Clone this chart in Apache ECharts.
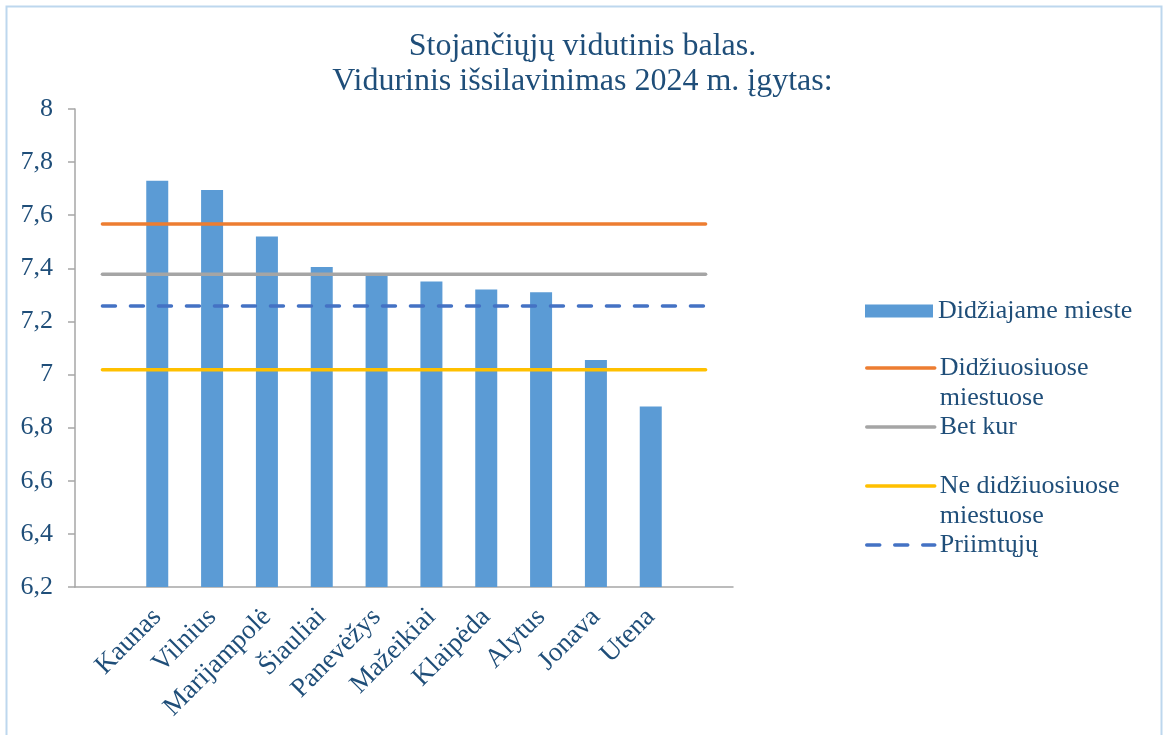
<!DOCTYPE html>
<html lang="lt">
<head>
    <meta charset="UTF-8">
    <title>Stojančiųjų vidutinis balas</title>
    <script src="https://cdn.jsdelivr.net/npm/echarts@6/dist/echarts.min.js"></script>
    <style>
        html, body { margin: 0; padding: 0; background: #fff; }
        #main { width: 1165px; height: 735px; }
    </style>
</head>
<body>
<div id="main"></div>
<script type="text/javascript">
    // miestai ir vidutiniai balai
    var cities = ['Kaunas', 'Vilnius', 'Marijampolė', 'Šiauliai', 'Panevėžys',
        'Mažeikiai', 'Klaipėda', 'Alytus', 'Jonava', 'Utena'];
    var cityScores = [7.73, 7.695, 7.52, 7.405, 7.375, 7.35, 7.32, 7.31, 7.055, 6.88];
    var barName = 'Didžiajame mieste';

    // horizontalios linijos
    var lineNames = ['Didžiuosiuose miestuose', 'Bet kur', 'Ne didžiuosiuose miestuose', 'Priimtųjų'];
    var lineLevels = [7.567, 7.378, 7.018, 7.258];
    // pirma tuscia eilute - kad pirmoji teksto eilute butu prie ikonos
    var lineLabels = ['\nDidžiuosiuose\nmiestuose', 'Bet kur', '\nNe didžiuosiuose\nmiestuose', 'Priimtųjų'];

    var yTicks = [6.2, 6.4, 6.6, 6.8, 7, 7.2, 7.4, 7.6, 7.8, 8];

    var textColor = '#1F4E79';
    var font = '"Liberation Serif", "Times New Roman", serif';

    // tuscia kategorija is abieju krastu
    var categories = [''].concat(cities).concat(['']);
    var barData = [null].concat(cityScores).concat([null]);
    var lastIdx = categories.length - 1;

    var lineColors = ['#ED7D31', '#A5A5A5', '#FFC000', '#4472C4'];
    var lineTypes = ['solid', 'solid', 'solid', [13, 15]];
    var legendTops = [323, 412, 441, 530];

    var series = [{
        name: barName,
        type: 'bar',
        data: barData,
        barWidth: 22,
        itemStyle: { color: '#5B9BD5' }
    }];
    lineNames.forEach(function (n, i) {
        series.push({
            name: n,
            type: 'line',
            data: [[0, lineLevels[i]], [lastIdx, lineLevels[i]]],
            symbol: 'none',
            lineStyle: { color: lineColors[i], width: 3.5, type: lineTypes[i], cap: 'round' },
            itemStyle: { color: lineColors[i] },
            z: 3
        });
    });

    var legends = [{
        data: [barName],
        left: 865, top: 296, padding: 0,
        itemWidth: 68, itemHeight: 13,
        selectedMode: false,
        icon: 'rect',
        textStyle: { fontFamily: font, fontSize: 26, color: textColor, lineHeight: 30 }
    }];
    lineNames.forEach(function (n, i) {
        legends.push({
            data: [n],
            left: 865, top: legendTops[i], padding: 0,
            itemWidth: 68, itemHeight: 14,
            selectedMode: false,
            itemStyle: { opacity: 0 },
            lineStyle: { width: 3.5, cap: 'round' },
            formatter: function () { return lineLabels[i]; },
            textStyle: { fontFamily: font, fontSize: 26, color: textColor, lineHeight: 30 }
        });
    });

    var myChart = echarts.init(document.getElementById('main'));
    myChart.setOption({
        animation: false,
        backgroundColor: '#fff',
        title: {
            text: 'Stojančiųjų vidutinis balas.\nVidurinis išsilavinimas 2024 m. įgytas:',
            left: 'center', top: 24,
            textStyle: { fontFamily: font, fontSize: 32, fontWeight: 'normal', color: textColor, lineHeight: 35 }
        },
        legend: legends,
        grid: { left: 75, right: 432, top: 109, bottom: 148 },
        xAxis: {
            type: 'category',
            data: categories,
            axisLine: { lineStyle: { color: '#A6A6A6', width: 1.5 } },
            axisTick: { length: 6, lineStyle: { color: '#A6A6A6', width: 1.5 } },
            axisLabel: {
                interval: 0, rotate: 45, margin: 26,
                fontFamily: font, fontSize: 27, color: textColor
            }
        },
        yAxis: {
            type: 'value',
            min: yTicks[0], max: yTicks[yTicks.length - 1], interval: 0.2,
            splitLine: { show: false },
            axisLine: { show: true, lineStyle: { color: '#A6A6A6', width: 1.5 } },
            axisTick: { show: true, length: 7, lineStyle: { color: '#A6A6A6', width: 1.5 } },
            axisLabel: {
                margin: 22,
                fontFamily: font, fontSize: 26, color: textColor,
                formatter: function (v) { return String(Number(v.toFixed(1))).replace('.', ','); }
            }
        },
        graphic: [{
            type: 'rect', silent: true,
            shape: { x: 6.5, y: 6.5, width: 1155, height: 760 },
            style: { fill: 'none', stroke: '#BDD7EE', lineWidth: 2 }
        }],
        series: series
    });
</script>
</body>
</html>
